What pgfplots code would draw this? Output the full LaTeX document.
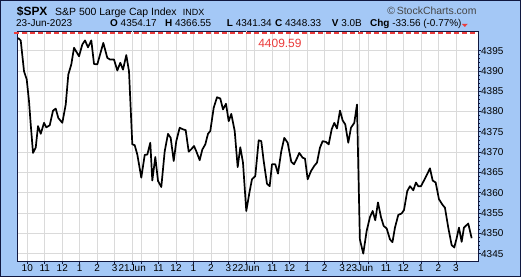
\documentclass[border=0pt]{standalone}
\usepackage{pgfplots}
\pgfplotsset{compat=1.18}
\usepackage{pgfplotstable}
\usepackage{fontspec}
\setmainfont{Liberation Sans}
\definecolor{bgblue}{RGB}{164,200,246}
\definecolor{frame}{RGB}{16,24,64}
\definecolor{gridc}{RGB}{218,218,218}
\definecolor{daygrid}{RGB}{180,180,180}
\definecolor{redline}{RGB}{235,60,60}
\definecolor{copyc}{RGB}{70,70,70}

% px = horizontal position (hours scale: t = (px-18.5)/17.5), v = index level
\pgfplotstableread{
px v
18 4398.1
20.7 4397.5
24 4389.9
26.7 4387.9
29 4382.5
30.7 4376.8
33 4369.8
35.7 4371.1
38 4376.4
40.7 4374.5
44 4377.2
46.3 4376.1
49.7 4376.6
53 4380.2
55.7 4380.7
58.3 4378.4
62.3 4377.2
65.7 4381.7
68.3 4389.1
71.3 4391.6
74 4395.7
79 4393.6
82.3 4396.5
85 4397.5
88 4395.8
91.3 4397.5
94 4391.7
97.3 4391.6
103.3 4396.9
107.3 4393.2
110 4392.8
114 4392.8
117.3 4390.1
120.3 4392.0
123 4390.3
126.3 4393.9
129 4389.9
132.3 4371.9
134.7 4371.7
137.3 4369.4
141.3 4363.7
144.7 4369.3
147.3 4369.4
150.3 4372.3
152.3 4363.0
155.3 4368.8
158 4362.9
161.3 4361.4
164.7 4370.2
168 4374.5
170.7 4373.5
173.7 4367.8
176.3 4372.7
179.7 4376.0
183 4375.6
185.7 4375.4
188.7 4370.1
191.3 4370.7
194 4371.5
196.3 4370.2
199.7 4368.0
202.3 4370.6
205.3 4371.9
208 4374.5
210.3 4375.2
213.7 4380.9
217 4383.5
220.3 4383.2
223 4380.5
226 4381.9
228.7 4377.6
231.3 4379.4
234.7 4375.2
237.7 4366.3
240.3 4371.2
243 4367.4
246.3 4355.5
249.7 4360.4
252 4363.3
255.3 4364.1
258.7 4372.9
261.3 4372.7
263.7 4367.8
267 4362.2
269.7 4361.6
272 4367.0
275.3 4367.0
278 4364.7
281.3 4370.2
284.3 4373.5
287.7 4372.3
291.3 4367.6
294 4367.0
297 4368.5
299.3 4369.8
302.7 4368.6
305 4368.4
307.7 4363.3
311 4365.3
314.3 4366.6
317 4367.4
320 4371.1
322.7 4372.7
326 4372.5
328.7 4371.9
331.7 4375.6
334.3 4377.2
337 4375.8
340 4380.2
342.7 4377.8
345.3 4376.8
348.3 4372.3
351 4376.0
354.3 4377.2
357 4381.7
359.9 4348.5
363.3 4345.0
366.7 4350.6
370 4354.0
372.7 4355.5
375.3 4353.2
378 4357.6
381 4354.0
383.7 4351.8
386.7 4351.2
390 4348.5
392.5 4347.8
395 4351.4
398.3 4354.5
401.7 4354.9
404 4355.7
407.3 4360.4
410 4361.6
413.3 4360.6
416 4362.5
418.3 4361.6
421 4361.6
424 4363.0
426.7 4364.3
430 4366.0
432.7 4363.0
435.7 4362.5
439 4358.4
442.3 4357.1
445 4356.3
448.3 4351.4
451.7 4347.1
454.3 4346.5
456.7 4348.8
459 4351.4
461.7 4347.9
464 4351.4
468.3 4352.4
471.7 4348.8
}\spx

\begin{document}
\begin{tikzpicture}
\path[use as bounding box] (0,0) rectangle (521bp,277bp);
\fill[bgblue] (0,0) rectangle (521bp,277bp);
\draw[frame, line width=1bp] (0.5bp,0.5bp) rectangle (520.5bp,276.5bp);

% header
\node[anchor=base west, inner sep=0, font=\fontsize{12}{14}\selectfont\bfseries] at (16.7bp,261.3bp) {\$SPX};
\node[anchor=base west, inner sep=0, font=\fontsize{10.5}{12}\selectfont] at (55bp,261.3bp) {S\&P 500 Large Cap Index};
\node[anchor=base west, inner sep=0, font=\fontsize{9}{10}\selectfont] at (182.7bp,261.3bp) {INDX};
\node[anchor=base east, inner sep=0, font=\fontsize{10.5}{12}\selectfont, text=copyc] at (476.7bp,262bp) {\textcopyright\,StockCharts.com};
\node[anchor=base west, inner sep=0, font=\fontsize{10}{12}\selectfont] at (16bp,250.3bp) {23-Jun-2023};
\node[anchor=base west, inner sep=0, font=\fontsize{10}{12}\selectfont] at (110bp,250.3bp) {\textbf{O} 4354.17};
\node[anchor=base west, inner sep=0, font=\fontsize{10}{12}\selectfont] at (165bp,250.3bp) {\textbf{H} 4366.55};
\node[anchor=base west, inner sep=0, font=\fontsize{10}{12}\selectfont] at (226.7bp,250.3bp) {\textbf{L} 4341.34};
\node[anchor=base west, inner sep=0, font=\fontsize{10}{12}\selectfont] at (275bp,250.3bp) {\textbf{C} 4348.33};
\node[anchor=base west, inner sep=0, font=\fontsize{10}{12}\selectfont] at (331.7bp,250.3bp) {\textbf{V} 3.0B};
\node[anchor=base west, inner sep=0, font=\fontsize{10}{12}\selectfont] at (370bp,250.3bp) {\textbf{Chg} -33.56 (-0.77\%)};
\fill[redline] (461.8bp,253.2bp) -- (467.8bp,253.2bp) -- (464.8bp,250bp) -- cycle;

\begin{axis}[
  at={(17.3bp,15.7bp)}, anchor=south west,
  scale only axis, width=460.7bp, height=229.8bp,
  xmin=-0.07, xmax=26.26, ymin=4343.1, ymax=4399.7,
  clip=false,
  axis background/.style={fill=white},
  axis line style={frame, line width=1bp},
  grid=major,
  major grid style={gridc, line width=0.6bp},
  tick align=outside,
  major tick length=2.5bp,
  minor tick length=1.5bp,
  tick style={frame, line width=0.6bp},
  xtick pos=bottom, ytick pos=right,
  yticklabel pos=right,
  xtick={0.5,1.5,2.5,3.5,4.5,5.5,7,8,9,10,11,12,13.5,14.5,15.5,16.5,17.5,18.5,20,21,22,23,24,25},
  xticklabels={10,11,12,1,2,3,,11,12,1,2,3,,11,12,1,2,3,,11,12,1,2,3},
  extra x ticks={6.5,13,19.5},
  extra x tick labels={21Jun,22Jun,23Jun},
  extra x tick style={grid style={daygrid, line width=0.8bp},
     tick label style={font=\fontsize{10.5}{12}\selectfont\bfseries}},
  ytick={4345,4350,...,4395},
  minor y tick num=4,
  /pgf/number format/1000 sep={},
  /pgf/number format/assume math mode=true,
  xticklabel style={font=\fontsize{10}{12}\selectfont, inner sep=0pt, anchor=north, yshift=-1bp},
  yticklabel style={font=\fontsize{10}{12}\selectfont, inner sep=0pt, anchor=west, xshift=0.5bp},
]
\addplot[black, line width=1.7bp, line join=round, mark=none]
  table[x expr={(\thisrow{px}-18.5)/17.5}, y=v] {\spx};
\draw[redline, line width=1.5bp, dash pattern=on 5bp off 3bp]
  (rel axis cs:-0.007,0.9935) -- (rel axis cs:1,0.9935);
\node[anchor=base, inner sep=0, text=redline, font=\fontsize{12}{14}\selectfont] at (axis cs:14.94,4395.8) {4409.59};
\end{axis}
\end{tikzpicture}
\end{document}
